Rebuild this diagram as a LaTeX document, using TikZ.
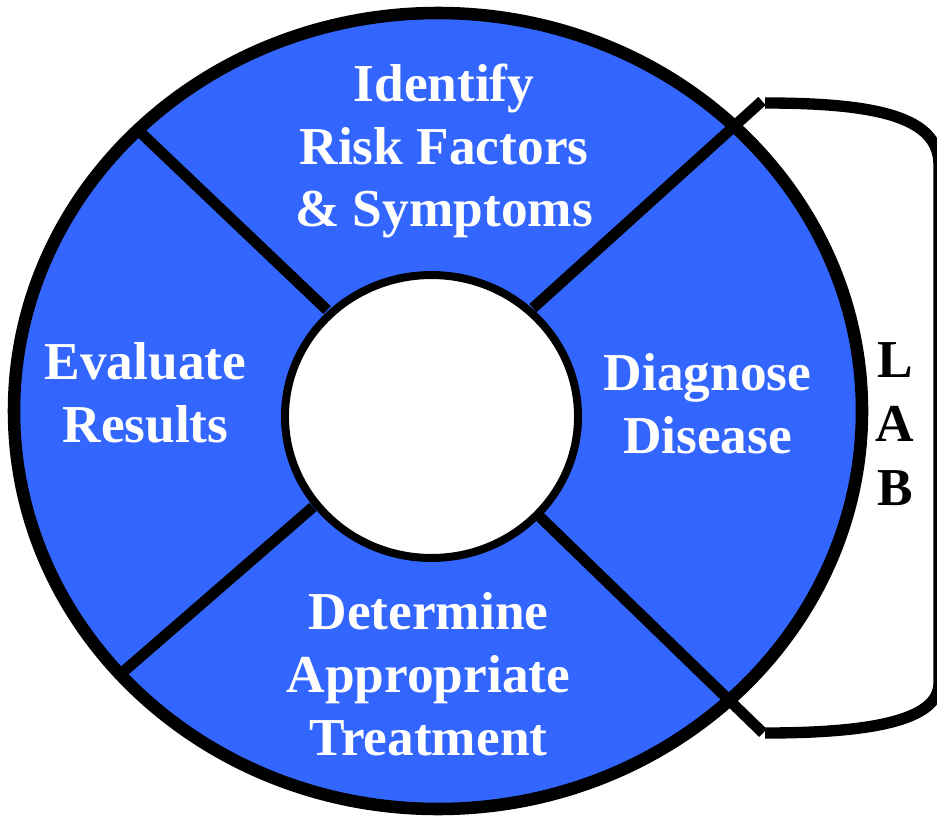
\documentclass[tikz,border=0pt]{standalone}
\usepackage{fontspec}
\setmainfont{Liberation Serif}
\definecolor{ringblau}{RGB}{51,102,255}
\begin{document}
\begin{tikzpicture}[x=0.75pt, y=-0.75pt,
  feld/.style={text=white, font=\fontsize{40}{46.9}\selectfont\bfseries,
    align=center, anchor=base, inner sep=0pt},
  lab/.style={font=\fontsize{40}{48}\selectfont\bfseries,
    align=center, anchor=base, inner sep=0pt},
  trenn/.style={line width=8.2pt}]
\useasboundingbox (0,0) rectangle (937,816);

% Ring
\coordinate (M) at (438,411);
\coordinate (m) at (431.5,416.5);
\fill[ringblau] (M) ellipse [x radius=318pt, y radius=298.5pt];

% Trennlinien
\coordinate (ilo) at (327,310);  \coordinate (olo) at (140,132);
\coordinate (iro) at (533,308);  \coordinate (oro) at (762,101);
\coordinate (ilu) at (313,507);  \coordinate (olu) at (123,672);
\coordinate (iru) at (540,517);  \coordinate (oru) at (763,733);

\draw[trenn] (ilo) -- (olo);
\draw[trenn] (iro) -- (oro);
\draw[trenn] (ilu) -- (olu);
\draw[trenn] (iru) -- (oru);

\draw[line width=9.4pt] (M) ellipse [x radius=318pt, y radius=298.5pt];
\filldraw[fill=white, line width=6pt] (m) ellipse [x radius=109.9pt, y radius=106.1pt];

% Klammer
\coordinate (ko) at (765,103);
\coordinate (ku) at (765,733);
\draw[line width=8.5pt]
  (ko) .. controls (880,103) and (939,118) .. (939,165)
  -- (939,683) .. controls (939,718) and (880,733) .. (ku);

% Knoten (Grundlinie der letzten Zeile)
\node[feld] (ident) at (444,227)   {Identify\\Risk Factors\\\& Symptoms};
\node[feld] (eval)  at (145.5,442) {Evaluate\\Results};
\node[feld] (diag)  at (707.5,453) {Diagnose\\Disease};
\node[feld] (treat) at (428.5,755) {Determine\\Appropriate\\Treatment};
\node[lab]  (lab)   at (895,505)   {L\\A\\B};

\end{tikzpicture}
\end{document}
